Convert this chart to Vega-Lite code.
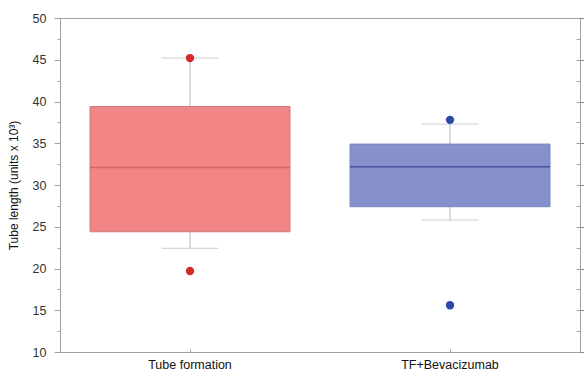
{
  "$schema": "https://vega.github.io/schema/vega-lite/v6.json",
  "autosize": {"type": "none"},
  "width": 520,
  "height": 334,
  "padding": {"left": 60, "top": 18, "right": 4, "bottom": 26},
  "background": "white",
  "config": {
    "font": "Liberation Sans",
    "view": {"stroke": "#a0a0a0", "strokeWidth": 1}
  },
  "datasets": {
    "summary": [
      {"group": "Tube formation", "lower": 22.4, "q1": 24.4, "median": 32.1, "q3": 39.4, "upper": 45.2},
      {"group": "TF+Bevacizumab", "lower": 25.8, "q1": 27.4, "median": 32.2, "q3": 34.9, "upper": 37.3}
    ],
    "outliers": [
      {"group": "Tube formation", "value": 45.2},
      {"group": "Tube formation", "value": 19.7},
      {"group": "TF+Bevacizumab", "value": 37.8},
      {"group": "TF+Bevacizumab", "value": 15.6}
    ]
  },
  "encoding": {
    "x": {
      "field": "group",
      "type": "nominal",
      "sort": ["Tube formation", "TF+Bevacizumab"],
      "scale": {"paddingInner": 0, "paddingOuter": 0},
      "axis": {
        "title": null,
        "labelAngle": 0,
        "labelFontSize": 12.5,
        "labelColor": "#111",
        "labelPadding": 9,
        "domainColor": "#a0a0a0",
        "tickColor": "#a0a0a0",
        "tickSize": -3,
        "labelFont": "Liberation Sans"
      }
    }
  },
  "layer": [
    {
      "data": {"name": "summary"},
      "mark": {"type": "rule", "color": "#c8c8c8", "strokeWidth": 1.3},
      "encoding": {
        "y": {
          "field": "lower",
          "type": "quantitative",
          "scale": {"domain": [10, 50], "nice": false, "zero": false},
          "axis": {
            "orient": "left",
            "title": "Tube length (units x 10³)",
            "titleFontSize": 12,
            "titleFontWeight": "normal",
            "titleColor": "#111",
            "titlePadding": 12,
            "values": [10, 12.5, 15, 17.5, 20, 22.5, 25, 27.5, 30, 32.5, 35, 37.5, 40, 42.5, 45, 47.5, 50],
            "labelExpr": "datum.value % 5 === 0 ? datum.label : ''",
            "labelFontSize": 12.5,
            "labelColor": "#333",
            "labelPadding": 8,
            "tickSize": {"condition": {"test": "datum.value % 5 === 0", "value": 6}, "value": 3},
            "tickColor": "#a0a0a0",
            "domainColor": "#a0a0a0",
            "grid": false
          }
        },
        "y2": {"field": "upper"}
      }
    },
    {
      "data": {"name": "summary"},
      "mark": {"type": "tick", "color": "#c8c8c8", "size": 57, "thickness": 1.3},
      "encoding": {"y": {"field": "lower", "type": "quantitative"}}
    },
    {
      "data": {"name": "summary"},
      "mark": {"type": "tick", "color": "#c8c8c8", "size": 57, "thickness": 1.3},
      "encoding": {"y": {"field": "upper", "type": "quantitative"}}
    },
    {
      "data": {"name": "summary"},
      "mark": {"type": "bar", "size": 200, "strokeWidth": 1},
      "encoding": {
        "y": {"field": "q1", "type": "quantitative"},
        "y2": {"field": "q3"},
        "fill": {
          "field": "group",
          "type": "nominal",
          "scale": {"domain": ["Tube formation", "TF+Bevacizumab"], "range": ["#f28686", "#8690ca"]},
          "legend": null
        },
        "stroke": {
          "field": "group",
          "type": "nominal",
          "scale": {"domain": ["Tube formation", "TF+Bevacizumab"], "range": ["#cf7a7a", "#7c86bd"]},
          "legend": null
        }
      }
    },
    {
      "data": {"name": "summary"},
      "mark": {"type": "tick", "size": 200, "thickness": 1.5},
      "encoding": {
        "y": {"field": "median", "type": "quantitative"},
        "color": {
          "field": "group",
          "type": "nominal",
          "scale": {"domain": ["Tube formation", "TF+Bevacizumab"], "range": ["#c05c5c", "#2e3785"]},
          "legend": null
        }
      }
    },
    {
      "data": {"name": "outliers"},
      "mark": {"type": "point", "filled": true, "size": 70, "opacity": 1},
      "encoding": {
        "y": {
          "field": "value",
          "type": "quantitative",
          "axis": {
            "orient": "right",
            "title": null,
            "labels": false,
            "aria": false,
            "values": [10, 12.5, 15, 17.5, 20, 22.5, 25, 27.5, 30, 32.5, 35, 37.5, 40, 42.5, 45, 47.5, 50],
            "tickSize": -4,
            "tickColor": "#a0a0a0",
            "domainColor": "#a0a0a0",
            "grid": false
          }
        },
        "color": {
          "field": "group",
          "type": "nominal",
          "scale": {"domain": ["Tube formation", "TF+Bevacizumab"], "range": ["#d42a2a", "#2b4aa6"]},
          "legend": null
        }
      }
    }
  ],
  "resolve": {"scale": {"color": "independent"}, "axis": {"y": "independent"}}
}
